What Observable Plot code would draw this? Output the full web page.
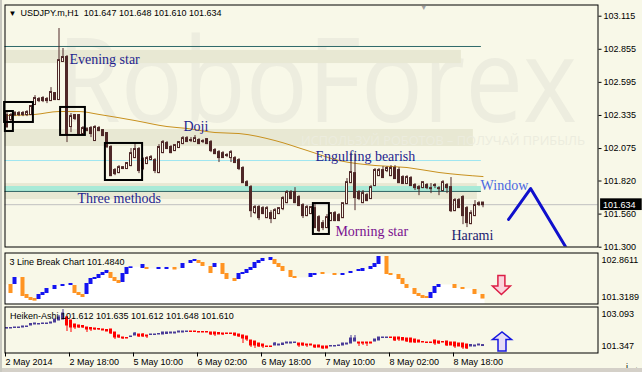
<!DOCTYPE html>
<html><head><meta charset="utf-8">
<script src="https://cdn.jsdelivr.net/npm/d3@7"></script>
<script src="https://cdn.jsdelivr.net/npm/@observablehq/plot@0.6"></script>
<style>
html,body{margin:0;padding:0;background:#f8f8e8;}
#wrap{position:relative;width:642px;height:372px;overflow:hidden;background:#f8f8e8;}
.panel{position:absolute;left:0;width:642px;}
#strip{position:absolute;left:0;top:368px;width:642px;height:4px;background:#d4d0c8;}
#lstrip{position:absolute;left:0;top:0;width:2px;height:372px;background:#c8c8c0;}
</style></head><body>
<div id="wrap">
  <div id="p1" class="panel" style="top:0"></div>
  <div id="p2" class="panel" style="top:250px"></div>
  <div id="p3" class="panel" style="top:304px"></div>
  <div id="strip"></div><div id="lstrip"></div>
</div>
<script>
// ---------- DATA ----------
const symbolName = "USDJPY.m,H1";
const headerOHLC = [101.647, 101.648, 101.610, 101.634];
const bidPrice = 101.634;
const priceTicks = [103.115, 102.855, 102.595, 102.335, 102.075, 101.820, 101.560, 101.300];
const tickBars = [0, 16, 32, 48, 64, 80, 96, 112];
const tickLabels = ["2 May 2014", "2 May 18:00", "5 May 10:00", "6 May 02:00", "6 May 18:00", "7 May 10:00", "8 May 02:00", "8 May 18:00"];

const open = [
102.334,102.303,102.342,102.342,102.350,102.342,102.342,102.421,102.452,102.468,
102.460,102.452,102.507,102.460,102.759,102.790,102.248,102.334,102.334,102.193,
102.224,102.232,102.138,102.232,102.216,102.193,102.083,101.902,101.886,101.918,
101.918,101.941,102.004,102.067,101.988,101.957,101.988,101.980,101.886,102.043,
102.114,102.083,102.059,102.083,102.114,102.153,102.138,102.130,102.138,102.130,
102.145,102.122,102.059,102.043,102.035,102.020,102.004,101.996,101.980,101.918,
101.807,101.768,101.572,101.611,101.603,101.532,101.564,101.525,101.564,101.603,
101.650,101.729,101.729,101.690,101.627,101.548,101.564,101.603,101.532,101.485,
101.454,101.509,101.564,101.548,101.532,101.642,101.807,101.878,101.729,101.650,
101.705,101.682,101.784,101.862,101.902,101.902,101.862,101.918,101.902,101.847,
101.800,101.839,101.784,101.768,101.768,101.784,101.760,101.784,101.760,101.745,
101.784,101.768,101.587,101.666,101.690,101.603,101.485,101.548,101.635,101.647];
const high = [
102.358,102.350,102.366,102.366,102.366,102.373,102.413,102.491,102.476,102.483,
102.476,102.554,102.515,103.018,102.861,102.806,102.350,102.342,102.342,102.248,
102.240,102.248,102.255,102.248,102.224,102.200,102.098,101.918,101.941,101.933,
101.965,102.075,102.114,102.083,102.004,102.012,102.020,101.996,102.106,102.138,
102.130,102.098,102.106,102.130,102.169,102.169,102.161,102.177,102.153,102.145,
102.153,102.138,102.075,102.059,102.051,102.035,102.059,102.012,101.996,101.933,
101.823,101.784,101.627,101.627,101.619,101.619,101.587,101.603,101.611,101.697,
101.745,101.745,101.768,101.705,101.642,101.627,101.619,101.635,101.548,101.509,
101.556,101.572,101.580,101.564,101.642,101.839,102.035,102.035,101.745,101.745,
101.721,101.784,101.918,101.918,101.933,101.933,101.941,101.941,101.925,101.862,
101.862,101.855,101.800,101.784,101.807,101.800,101.800,101.800,101.776,101.823,
101.800,101.847,101.682,101.682,101.705,101.619,101.587,101.666,101.658,101.648];
const low = [
102.232,102.287,102.326,102.326,102.326,102.326,102.334,102.413,102.436,102.436,
102.428,102.444,102.452,102.452,102.751,102.122,102.200,102.295,102.185,102.177,
102.208,102.161,102.130,102.208,102.169,102.075,101.855,101.862,101.878,101.910,
101.910,101.933,101.996,101.878,101.902,101.949,101.980,101.878,101.878,102.035,
102.067,102.035,102.051,102.075,102.106,102.122,102.122,102.122,102.106,102.114,
102.106,102.043,102.028,101.965,102.004,102.004,101.965,101.957,101.902,101.807,
101.776,101.532,101.556,101.509,101.556,101.525,101.485,101.517,101.556,101.587,
101.642,101.682,101.642,101.619,101.525,101.540,101.556,101.446,101.414,101.430,
101.446,101.501,101.501,101.501,101.525,101.635,101.800,101.587,101.666,101.642,
101.658,101.674,101.776,101.855,101.839,101.886,101.855,101.839,101.800,101.800,
101.792,101.784,101.745,101.705,101.760,101.752,101.721,101.760,101.705,101.737,
101.721,101.572,101.580,101.611,101.477,101.454,101.477,101.540,101.619,101.610];
const close = [
102.248,102.334,102.350,102.350,102.342,102.358,102.405,102.468,102.460,102.452,
102.452,102.515,102.460,102.766,102.790,102.193,102.326,102.311,102.193,102.232,
102.216,102.193,102.240,102.216,102.177,102.090,101.862,101.878,101.925,101.925,
101.957,102.035,102.067,101.902,101.918,101.996,102.004,101.902,102.083,102.122,
102.075,102.043,102.098,102.122,102.153,102.130,102.138,102.153,102.114,102.130,
102.114,102.059,102.035,102.004,102.004,102.020,102.043,101.965,101.918,101.807,
101.784,101.587,101.611,101.532,101.564,101.603,101.525,101.587,101.603,101.682,
101.729,101.682,101.650,101.627,101.548,101.611,101.611,101.454,101.430,101.454,
101.532,101.564,101.509,101.509,101.642,101.807,101.886,101.690,101.682,101.721,
101.666,101.768,101.902,101.902,101.847,101.918,101.918,101.839,101.807,101.800,
101.847,101.784,101.768,101.760,101.807,101.768,101.760,101.784,101.760,101.807,
101.768,101.587,101.666,101.611,101.548,101.493,101.564,101.627,101.642,101.634];

// moving average, read at sample points
const maBar = [0, 7, 13, 18, 23, 32, 40, 45, 52, 58, 67, 75, 83, 92, 100, 108, 119];
const maValue = [102.335, 102.343, 102.366, 102.366, 102.343, 102.295, 102.248, 102.233, 102.201, 102.193, 102.138, 102.060, 101.981, 101.942, 101.926, 101.887, 101.855];

// horizontal objects
const bandX1 = [-0.5, -0.5, -0.5, -0.5];
const bandX2 = [113.6, 116.6, 117.6, 118.6];
const bandTop = [102.846, 102.225, 101.800, 101.777];
const bandBottom = [102.743, 102.091, 101.675, 101.738];
const bandColor = ["#e8e8d3", "#e8e8d3", "#e8e8d3", "#a8ead7"];
const levelPrice = [102.877, 101.981, 101.738];
const levelEnd = [118.6, 118.6, 118.6];
const levelColor = ["#2f6a6a", "#9fe6f0", "#2f6464"];

// pattern boxes
const boxX1 = [-0.6, -0.4, 13.4, 24.6, 76.6];
const boxX2 = [6.6, 1.6, 19.6, 33.9, 80.6];
const boxTop = [102.437, 102.366, 102.398, 102.115, 101.643];
const boxBottom = [102.280, 102.209, 102.178, 101.824, 101.400];

// pattern labels
const labelText = ["Evening star", "Doji", "Engulfing bearish", "Three methods", "Morning star", "Harami", "Window"];
const labelBar = [15.6, 44.1, 77.1, 17.6, 82.1, 111.1, 118.4];
const labelPrice = [102.775, 102.248, 102.013, 101.683, 101.423, 101.392, 101.785];
const labelColor = ["#1f1f8f", "#1f1f8f", "#1f1f8f", "#1f1f8f", "#7a1090", "#1c1c70", "#4a68e0"];

// forecast zigzag
const fcBar = [125.4, 130.9, 139.9];
const fcPrice = [101.518, 101.761, 101.290];

// 3 Line Break indicator
const lbTitle = "3 Line Break Chart";
const lbValue = 101.4840;
const lbMax = 102.8611, lbMin = 101.3189;
const lbStartLevel = 101.893;
const lbBar = [1,2,4,5,6,7,8,9,10,12,14,16,17,18,19,20,21,22,23,24,25,26,27,28,29,30,31,34,35,38,40,42,44,46,47,48,49,51,52,54,55,57,58,59,60,61,62,63,64,66,67,68,69,71,72,76,77,79,82,84,86,88,89,91,92,93,95,96,98,99,100,102,103,104,105,106,107,108,112,114,117,119];
const lbOpen = [101.893,101.924,102.105,101.591,101.500,101.470,101.470,101.591,101.651,101.772,
 101.863,101.893,101.863,101.651,101.591,101.621,101.924,102.075,102.105,102.196,
 102.256,102.256,102.105,102.014,101.984,102.226,102.408,102.408,102.408,102.377,
 102.377,102.408,102.408,102.559,102.619,102.619,102.559,102.438,102.438,102.528,
 102.226,102.075,102.075,102.226,102.256,102.347,102.408,102.559,102.619,102.649,
 102.649,102.528,102.438,102.317,102.135,102.135,102.196,102.256,102.226,102.196,
 102.256,102.317,102.317,102.377,102.438,102.528,102.740,102.226,102.196,102.075,
 101.893,101.772,101.621,101.561,101.530,101.500,101.651,101.833,101.893,101.803,
 101.742,101.591];
const lbClose = [101.651,102.105,101.561,101.500,101.440,101.420,101.591,101.651,101.772,101.863,
 101.893,101.924,101.651,101.591,101.530,101.924,102.075,102.105,102.196,102.256,
 102.317,102.105,102.014,101.954,102.226,102.408,102.428,102.498,102.377,102.408,
 102.408,102.362,102.528,102.619,102.649,102.559,102.468,102.256,102.528,102.226,
 102.075,102.014,102.226,102.256,102.347,102.408,102.559,102.619,102.680,102.710,
 102.528,102.438,102.317,102.135,102.105,102.226,102.226,102.226,102.196,102.226,
 102.287,102.347,102.377,102.438,102.528,102.740,102.226,102.196,102.075,101.924,
 101.803,101.621,101.561,101.500,101.500,101.651,101.833,101.893,101.803,101.772,
 101.621,101.484];
const lbArrowBar = 123.6, lbArrowValue = 101.893;

// Heiken-Ashi indicator
const haTitle = "Heiken-Ashi";
const haHeader = [101.612, 101.635, 101.612, 101.648, 101.610];
const haMax = 103.093, haMin = 101.347;
const haOpen = [
102.277,102.277,102.296,102.296,102.315,102.334,102.391,102.429,102.429,102.448,
102.448,102.467,102.505,102.581,102.618,102.694,102.581,102.429,102.391,102.372,
102.315,102.296,102.277,102.258,102.239,102.220,102.239,102.125,102.011,101.935,
101.916,101.954,102.011,102.049,102.049,102.011,102.030,102.030,102.049,102.049,
102.068,102.087,102.087,102.125,102.125,102.144,102.163,102.163,102.144,102.144,
102.144,102.125,102.125,102.106,102.087,102.087,102.087,102.087,102.049,102.011,
101.973,101.821,101.783,101.707,101.669,101.594,101.594,101.632,101.632,101.651,
101.707,101.707,101.726,101.707,101.707,101.669,101.669,101.632,101.632,101.594,
101.594,101.594,101.594,101.613,101.632,101.669,101.707,101.783,101.745,101.745,
101.745,101.745,101.783,101.821,101.916,101.916,101.935,101.935,101.935,101.916,
101.897,101.897,101.859,101.821,101.764,101.745,101.745,101.821,101.783,101.764,
101.783,101.745,101.745,101.707,101.707,101.669,101.594,101.594,101.632,101.612];
const haClose = [
102.296,102.296,102.315,102.315,102.353,102.353,102.448,102.467,102.448,102.467,
102.467,102.505,102.618,102.694,102.846,102.391,102.315,102.315,102.315,102.315,
102.239,102.239,102.239,102.239,102.201,102.163,102.087,101.935,101.935,101.897,
101.897,101.973,102.087,101.973,101.973,101.973,102.049,102.049,102.068,102.125,
102.125,102.125,102.125,102.163,102.163,102.163,102.144,102.144,102.125,102.125,
102.125,102.049,102.049,102.049,102.049,102.068,102.068,102.011,101.973,101.897,
101.859,101.632,101.632,101.594,101.594,101.575,101.575,101.707,101.669,101.707,
101.745,101.745,101.745,101.632,101.632,101.632,101.632,101.556,101.556,101.518,
101.518,101.613,101.613,101.632,101.707,101.707,101.897,101.897,101.707,101.707,
101.707,101.707,101.859,101.935,101.935,101.935,101.916,101.821,101.859,101.821,
101.783,101.745,101.745,101.745,101.745,101.726,101.726,101.707,101.707,101.745,
101.632,101.632,101.594,101.594,101.556,101.518,101.651,101.632,101.669,101.648];
const haHigh = [
102.315,102.296,102.315,102.315,102.353,102.353,102.448,102.467,102.448,102.467,
102.467,102.505,102.618,102.770,102.998,102.732,102.581,102.429,102.391,102.372,
102.315,102.296,102.277,102.258,102.239,102.220,102.239,102.125,102.011,101.935,
101.916,101.973,102.125,102.049,102.087,102.011,102.049,102.049,102.068,102.125,
102.125,102.125,102.125,102.163,102.163,102.163,102.163,102.163,102.144,102.144,
102.144,102.125,102.125,102.106,102.087,102.087,102.087,102.087,102.049,102.011,
101.973,101.821,101.783,101.707,101.669,101.594,101.594,101.745,101.669,101.707,
101.745,101.745,101.745,101.707,101.707,101.669,101.669,101.632,101.632,101.594,
101.594,101.613,101.613,101.632,101.707,101.707,102.011,102.011,101.745,101.745,
101.745,101.745,101.859,101.935,101.935,101.935,101.935,101.935,101.935,101.916,
101.897,101.897,101.859,101.821,101.764,101.745,101.745,101.821,101.783,101.764,
101.783,101.745,101.745,101.707,101.707,101.669,101.651,101.632,101.669,101.648];
const haLow = [
102.258,102.277,102.296,102.296,102.315,102.334,102.391,102.429,102.429,102.448,
102.448,102.467,102.505,102.581,102.618,102.163,102.125,102.239,102.277,102.277,
102.125,102.163,102.201,102.201,102.201,102.163,102.049,101.859,101.897,101.859,
101.897,101.954,102.011,101.935,101.935,101.897,102.030,102.030,102.049,102.049,
102.068,102.087,102.087,102.125,102.125,102.144,102.144,102.144,102.125,102.125,
102.125,102.011,101.973,102.049,102.011,102.068,102.068,101.973,101.935,101.707,
101.783,101.556,101.518,101.556,101.518,101.575,101.575,101.632,101.632,101.651,
101.707,101.707,101.726,101.556,101.594,101.556,101.632,101.518,101.556,101.480,
101.518,101.594,101.594,101.613,101.632,101.669,101.707,101.783,101.594,101.632,
101.594,101.707,101.783,101.821,101.916,101.916,101.916,101.783,101.783,101.821,
101.745,101.745,101.707,101.745,101.745,101.726,101.726,101.632,101.669,101.745,
101.594,101.632,101.518,101.594,101.480,101.480,101.594,101.594,101.632,101.610];
const haArrowBar = 123.75, haArrowValue = 101.783;

const watermark = "RoboForex";
const slogan = "ИСПОЛЬЗУЙ РОБОТОВ – ПОЛУЧАЙ ПРИБЫЛЬ";

// ---------- STYLE ----------
const BG = "#f8f8e8", DARK = "#4f2828", MA = "#c8911f";
const FONT = "'Liberation Sans', Arial, sans-serif";
const SERIF = "'Liberation Serif', 'Times New Roman', serif";
const xDomain = [-0.5, 147.75];
const common = {
  width: 642, marginLeft: 4.5, marginRight: 44.5,
  x: {domain: xDomain, axis: null},
  color: {type: "identity"},
  style: {background: "transparent", overflow: "visible", fontFamily: FONT, fontSize: "9px", color: "black"}
};

// ---------- MAIN PANEL ----------
const candles = open.map((o, i) => ({i, o, h: high[i], l: low[i], c: close[i]}));
const ma = maBar.map((b, k) => ({b, v: maValue[k]}));
const bands = bandX1.map((x1, k) => ({x1, x2: bandX2[k], y1: bandTop[k], y2: bandBottom[k], fill: bandColor[k]}));
const levels = levelPrice.map((y, k) => ({y, x2: levelEnd[k], stroke: levelColor[k]}));
const boxes = boxX1.map((x1, k) => ({x1, x2: boxX2[k], y1: boxTop[k], y2: boxBottom[k]}));
const labels = labelText.map((t, k) => ({t, x: labelBar[k], y: labelPrice[k], fill: labelColor[k]}));
const fc = fcBar.map((b, k) => ({b, v: fcPrice[k]}));

const main = Plot.plot({
  ...common, height: 250, marginTop: 4.5, marginBottom: 3.5,
  y: {domain: [101.3015, 103.203], axis: null},
  marks: [
    Plot.text([watermark], {text: d => d, frameAnchor: "top-left", dx: 52, dy: 33, lineAnchor: "top", textAnchor: "start",
      fontSize: 118, fontFamily: "'Open Sans', sans-serif", fill: "#ededdf"}),
    Plot.rect(bands, {x1: "x1", x2: "x2", y1: "y1", y2: "y2", fill: "fill"}),
    Plot.text([slogan], {text: d => d, frameAnchor: "top-left", dx: 296, dy: 131, lineAnchor: "top", textAnchor: "start",
      fontSize: 12, fontFamily: "'Open Sans', sans-serif", fill: "#ececde"}),
    Plot.ruleY(levels, {y: "y", x1: -0.5, x2: "x2", stroke: "stroke"}),
    Plot.ruleY([bidPrice], {stroke: "#c0c0c0"}),
    Plot.line(ma, {x: "b", y: "v", stroke: MA, strokeWidth: 1, curve: "monotone-x"}),
    Plot.ruleX(candles, {x: "i", y1: "l", y2: "h", stroke: DARK}),
    Plot.rect(candles, {x1: d => d.i - 0.25, x2: d => d.i + 0.25, y1: "o", y2: "c",
      fill: d => d.c > d.o ? BG : DARK, stroke: DARK, insetTop: -0.5, insetBottom: -0.5}),
    Plot.rect(boxes, {x1: "x1", x2: "x2", y1: "y1", y2: "y2", fill: "none", stroke: "black", strokeWidth: 2}),
    Plot.text(labels, {x: "x", y: "y", text: "t", fill: "fill", textAnchor: "start", fontFamily: SERIF, fontSize: 14}),
    Plot.line(fc, {x: "b", y: "v", stroke: "#1010cc", strokeWidth: 3, clip: true}),
    Plot.frame({stroke: "black"}),
    Plot.axisY({anchor: "right", ticks: priceTicks, tickFormat: d => d.toFixed(3), tickSize: 3, tickPadding: 2.5, fill: "black"}),
    Plot.rect([bidPrice], {x1: 148.4, x2: 158.8, y1: d => d + 0.046, y2: d => d - 0.046, fill: "black"}),
    Plot.text([bidPrice], {x: 149.0, y: d => d, text: d => d.toFixed(3), fill: "white", textAnchor: "start"}),
    Plot.text(["▼"], {text: d => d, frameAnchor: "top-left", dx: 3.5, dy: 5, lineAnchor: "top", textAnchor: "start", fontSize: 8, fill: "black"}),
    Plot.text([symbolName + "\u00a0 " + headerOHLC.map(d => d.toFixed(3)).join(" ")], {text: d => d, frameAnchor: "top-left", dx: 15.5, dy: 5, lineAnchor: "top", textAnchor: "start", fill: "black"}),
    Plot.text(["▼"], {text: d => d, x: 104.2, frameAnchor: "top", dy: 0, lineAnchor: "top", fontSize: 7, fill: "#a0a0a0"})
  ]
});
d3.select(main).selectAll("text").filter(function(){ return this.textContent === watermark; })
  .attr("textLength", 520).attr("lengthAdjust", "spacingAndGlyphs");
d3.select(main).selectAll("text").filter(function(){ return this.textContent === slogan; })
  .attr("textLength", 284).attr("lengthAdjust", "spacingAndGlyphs");
document.getElementById("p1").appendChild(main);

// ---------- 3 LINE BREAK PANEL ----------
const lb = lbBar.map((b, k) => ({b, o: lbOpen[k], c: lbClose[k]}));
const lbArea = [{x: -0.5, v: lbStartLevel}, ...lb.map(d => ({x: d.b - 0.5, v: d.c})), {x: lb[lb.length - 1].b + 0.5, v: lb[lb.length - 1].c}];
const arrowDown = {draw(ctx) { ctx.moveTo(-3.5, -9.5); ctx.lineTo(3.5, -9.5); ctx.lineTo(3.5, 1); ctx.lineTo(9, 1); ctx.lineTo(0, 9.5); ctx.lineTo(-9, 1); ctx.lineTo(-3.5, 1); ctx.closePath(); }};
const arrowUp = {draw(ctx) { ctx.moveTo(-4, 9.5); ctx.lineTo(4, 9.5); ctx.lineTo(4, -2); ctx.lineTo(9.5, -2); ctx.lineTo(0, -9.5); ctx.lineTo(-9.5, -2); ctx.lineTo(-4, -2); ctx.closePath(); }};

const p2 = Plot.plot({
  ...common, height: 56, marginTop: 2.5, marginBottom: 2.5,
  y: {domain: [lbMin, lbMax], axis: null},
  marks: [
    Plot.areaY(lbArea, {x: "x", y1: lbMin, y2: "v", curve: "step-after", fill: "white"}),
    Plot.rect(lb, {x1: d => d.b - 0.5, x2: d => d.b + 0.5, y1: "o", y2: "c", fill: d => d.c > d.o ? "#1414f0" : "#ff9422", insetTop: -0.5, insetBottom: -0.5}),
    Plot.dot([lbArrowValue], {x: lbArrowBar, y: d => d, symbol: arrowDown, r: 5, stroke: "#dc1e46", strokeWidth: 1.5, fill: "#fbd3dc"}),
    Plot.frame({stroke: "black"}),
    Plot.axisY({anchor: "right", ticks: [lbMax], tickFormat: d => d.toFixed(4), tickSize: 0, tickPadding: 3.5, dy: 7, fill: "black"}),
    Plot.axisY({anchor: "right", ticks: [lbMin], tickFormat: d => d.toFixed(4), tickSize: 0, tickPadding: 3.5, dy: -7, fill: "black"}),
    Plot.text([lbTitle + " " + lbValue.toFixed(4)], {text: d => d, frameAnchor: "top-left", dx: 4.5, dy: 5.5, lineAnchor: "top", textAnchor: "start", fill: "black"})
  ]
});
document.getElementById("p2").appendChild(p2);

// ---------- HEIKEN-ASHI PANEL ----------
const ha = haOpen.map((o, i) => ({i, o, c: haClose[i], h: haHigh[i], l: haLow[i]}));
const haCol = d => d.c > d.o ? "#4a3c98" : "#ff0000";
const p3 = Plot.plot({
  ...common, height: 68, marginTop: 2.5, marginBottom: 19.5,
  y: {domain: [haMin, haMax], axis: null},
  marks: [
    Plot.ruleX(ha, {x: "i", y1: "l", y2: "h", stroke: haCol}),
    Plot.rect(ha, {x1: d => d.i - 0.375, x2: d => d.i + 0.375, y1: "o", y2: "c", fill: haCol, insetTop: -0.5, insetBottom: -0.5}),
    Plot.dot([haArrowValue], {x: haArrowBar, y: d => d, symbol: arrowUp, r: 5, stroke: "#1818e0", strokeWidth: 1.5, fill: "#e6dcf6"}),
    Plot.frame({stroke: "black"}),
    Plot.axisY({anchor: "right", ticks: [haMax], tickFormat: d => d.toFixed(3), tickSize: 0, tickPadding: 3.5, dy: 7, fill: "black"}),
    Plot.axisY({anchor: "right", ticks: [haMin], tickFormat: d => d.toFixed(3), tickSize: 0, tickPadding: 3.5, dy: -7, fill: "black"}),
    Plot.axisX({anchor: "bottom", ticks: tickBars, tickFormat: d => tickLabels[tickBars.indexOf(d)], tickSize: 4, tickPadding: 2, textAnchor: "start", dx: -1.5, fill: "black"}),
    Plot.text([haTitle + " " + haHeader.map(d => d.toFixed(3)).join(" ")], {text: d => d, frameAnchor: "top-left", dx: 5, dy: 6, lineAnchor: "top", textAnchor: "start", fill: "black"})
  ]
});
document.getElementById("p3").appendChild(p3);
</script>
</body></html>
